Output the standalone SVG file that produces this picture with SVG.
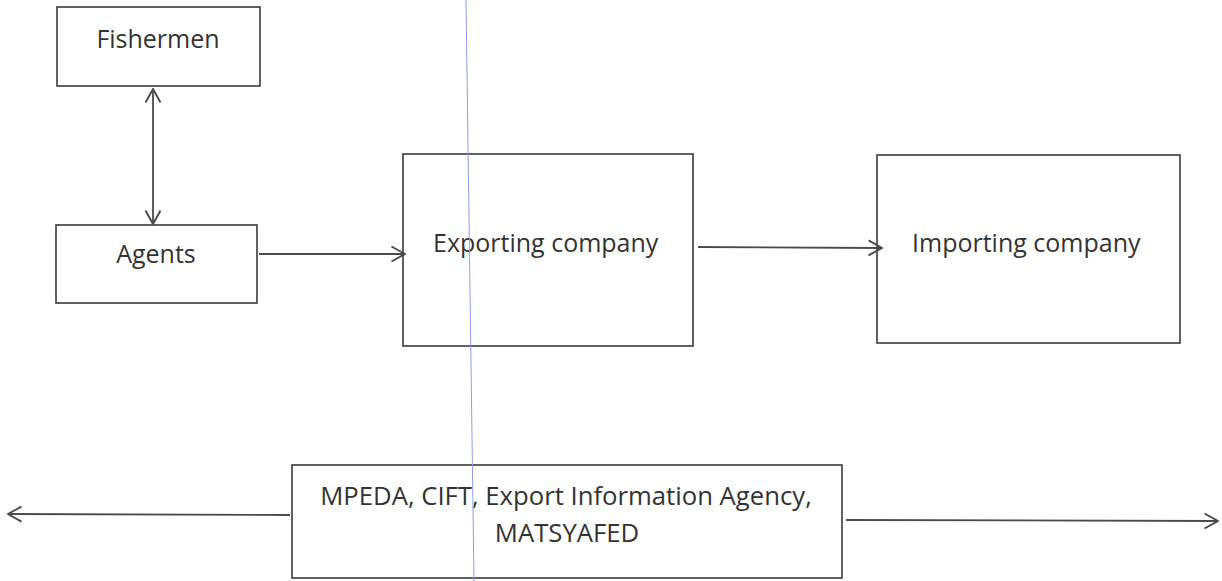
<svg xmlns="http://www.w3.org/2000/svg" width="1222" height="581" viewBox="0 0 1222 581">
  <style>
    .box { fill: none; stroke: #3a3a3a; stroke-width: 1.6; }
    .lbl { font-family: "Open Sans", "Liberation Sans", sans-serif; font-size: 25px; fill: #333; }
    .wide { font-size: 25.7px; }
    .edge { fill: none; stroke: #4a4a4a; stroke-width: 1.8; }
  </style>
  <defs>
    <marker id="open" viewBox="0 0 16 18" refX="15" refY="9" markerWidth="16" markerHeight="18" markerUnits="userSpaceOnUse" orient="auto-start-reverse">
      <path d="M1.5,1.5 L15,9 L1.5,16.5" fill="none" stroke="#4a4a4a" stroke-width="1.9"/>
    </marker>
  </defs>
  <rect width="1222" height="581" fill="#ffffff"/>

  <g id="fishermen">
    <rect class="box" x="57" y="7" width="203" height="79"/>
    <text class="lbl" x="158" y="48" text-anchor="middle">Fishermen</text>
  </g>
  <g id="agents">
    <rect class="box" x="56" y="225" width="201" height="78"/>
    <text class="lbl" x="156" y="263" text-anchor="middle">Agents</text>
  </g>
  <g id="exporting">
    <rect class="box" x="403" y="154" width="290" height="192"/>
    <text class="lbl" x="433" y="252">Exporting company</text>
  </g>
  <g id="importing">
    <rect class="box" x="877" y="155" width="303" height="188"/>
    <text class="lbl" x="912" y="252">Importing company</text>
  </g>
  <g id="agencies">
    <rect class="box" x="292" y="465" width="550" height="113"/>
    <text class="lbl wide" x="566" y="505" text-anchor="middle">MPEDA, CIFT, Export Information Agency,</text>
    <text class="lbl wide" x="567" y="542" text-anchor="middle">MATSYAFED</text>
  </g>

  <g id="connectors">
    <line class="edge" x1="153" y1="89" x2="153" y2="224" marker-start="url(#open)" marker-end="url(#open)"/>
    <line class="edge" x1="259" y1="254" x2="405" y2="254" marker-end="url(#open)"/>
    <line class="edge" x1="698" y1="247" x2="882" y2="248" marker-end="url(#open)"/>
    <line class="edge" x1="290" y1="515" x2="8" y2="514" marker-end="url(#open)"/>
    <line class="edge" x1="846" y1="520" x2="1218" y2="521" marker-end="url(#open)"/>
  </g>

  <!-- thin blue rule across the sheet -->
  <line x1="466" y1="0" x2="474" y2="581" stroke="#8f9de6" stroke-width="1"/>
</svg>
